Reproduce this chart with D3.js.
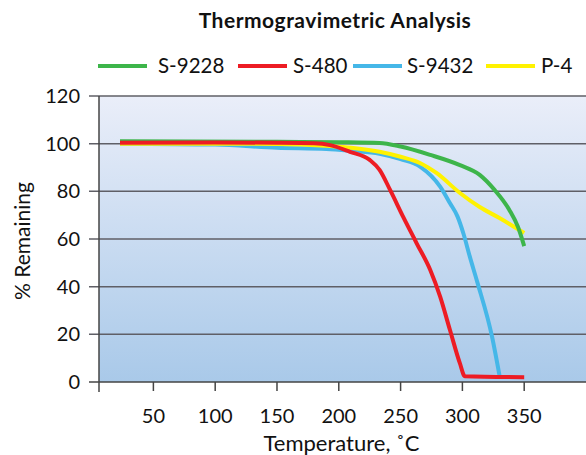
<!DOCTYPE html>
<html><head><meta charset="utf-8">
<script src="https://cdn.jsdelivr.net/npm/d3@7"></script>
<style>body{margin:0;background:#fff}svg{display:block}</style>
</head><body>
<svg id="c" width="586" height="455"></svg>
<script>
const seriesNames = ["S-9228","S-480","S-9432","P-4"];
const seriesColors = ["#3db54a","#ed1c24","#45b7e8","#fff200"];
const s9228 = [[23,101],[150,100.8],[200,100.6],[233,100.3],[250,98.8],[274,95.3],[298,91],[314,86.9],[326,80.6],[338,72.2],[345,65],[350,57]];
const s480 = [[23,100.4],[100,100.5],[150,100.4],[180,100.2],[193,99.4],[209,96.6],[225,93.2],[233,89],[241.5,80.6],[252,69.4],[263,58.2],[274,47],[282,35.8],[290,21.7],[298,7.8],[302,2.4],[350,2]];
const s9432 = [[23,100],[100,99.6],[150,98.3],[190,97.8],[210,97],[233,95.8],[250,93.5],[266,90.3],[282,82],[290,75],[296,69.5],[301,62],[306,52.6],[312,42],[324,19],[330,2.8]];
const p4 = [[23,100],[150,99.9],[193,99],[210,98.3],[233,96.6],[250,94.5],[266,91.8],[279,87.7],[298,79.3],[314,73.4],[330,68.8],[350,62.5]];
const xTicks = [50,100,150,200,250,300,350];
const yTicks = [0,20,40,60,80,100,120];
const title = "Thermogravimetric Analysis";
const xLabel = "Temperature, ˚C";
const yLabel = "% Remaining";

const FONT = "Lato, 'Open Sans', sans-serif";
const svg = d3.select("#c");
const L = 99, R = 586, T = 96, B = 382;
const x = d3.scaleLinear().domain([6, 400]).range([L, R]);
const y = d3.scaleLinear().domain([0, 120]).range([B, T]);

const defs = svg.append("defs");
const g = defs.append("linearGradient").attr("id","bg").attr("x1",0).attr("y1",0).attr("x2",0).attr("y2",1);
g.append("stop").attr("offset","0%").attr("stop-color","#eaeef9");
g.append("stop").attr("offset","100%").attr("stop-color","#a9c9e9");
svg.append("rect").attr("x",L).attr("y",T).attr("width",R-L).attr("height",B-T).attr("fill","url(#bg)");

// gridlines + y ticks
svg.append("g").selectAll("line").data(yTicks).join("line")
  .attr("x1",L-10).attr("x2",R).attr("y1",d=>y(d)).attr("y2",d=>y(d))
  .attr("stroke",d=>d===0?"#444":"#5f5f66").attr("stroke-width",1.5);
svg.append("g").selectAll("text").data(yTicks).join("text")
  .attr("x",80).attr("y",d=>y(d)+7).attr("text-anchor","end")
  .attr("font-family",FONT).attr("font-size",20).attr("fill","#111").text(d=>d);
// y axis line
svg.append("line").attr("x1",L).attr("x2",L).attr("y1",T).attr("y2",B+10).attr("stroke","#444").attr("stroke-width",1.5);
// x ticks
svg.append("g").selectAll("line").data(xTicks).join("line")
  .attr("x1",d=>x(d)).attr("x2",d=>x(d)).attr("y1",B).attr("y2",B+9)
  .attr("stroke","#444").attr("stroke-width",1.5);
svg.append("g").selectAll("text").data(xTicks).join("text")
  .attr("x",d=>x(d)).attr("y",423).attr("text-anchor","middle")
  .attr("font-family",FONT).attr("font-size",20).attr("fill","#111").text(d=>d);

// lines
const line = d3.line().x(d=>x(d[0])).y(d=>y(d[1])).curve(d3.curveMonotoneX);
const drawOrder = [[s9432,2],[p4,3],[s9228,0],[s480,1]];
drawOrder.forEach(([data,i])=>{
  svg.append("path").attr("d",line(data)).attr("fill","none")
    .attr("stroke",seriesColors[i]).attr("stroke-width",4).attr("stroke-linejoin","round");
});

// title
svg.append("text").attr("x",335).attr("y",28).attr("text-anchor","middle")
  .attr("font-family",FONT).attr("font-weight","bold").attr("font-size",21)
  .attr("letter-spacing",0.5).attr("fill","#111").text(title);
// legend
const legX = [98,238,353,486];
const legT = [158,293,407,541];
const leg = svg.append("g");
seriesNames.forEach((n,i)=>{
  leg.append("line").attr("x1",legX[i]).attr("x2",legX[i]+49).attr("y1",66).attr("y2",66)
    .attr("stroke",seriesColors[i]).attr("stroke-width",4);
  leg.append("text").attr("x",legT[i]).attr("y",72.5)
    .attr("font-family",FONT).attr("font-size",20.5).attr("fill","#111").text(n);
});
// axis labels
svg.append("text").attr("x",341.5).attr("y",451).attr("text-anchor","middle")
  .attr("font-family",FONT).attr("font-size",22).attr("fill","#111").text(xLabel);
svg.append("text").attr("transform","translate(30,241) rotate(-90)").attr("text-anchor","middle")
  .attr("font-family",FONT).attr("font-size",21).attr("fill","#111").text(yLabel);
</script>
</body></html>
